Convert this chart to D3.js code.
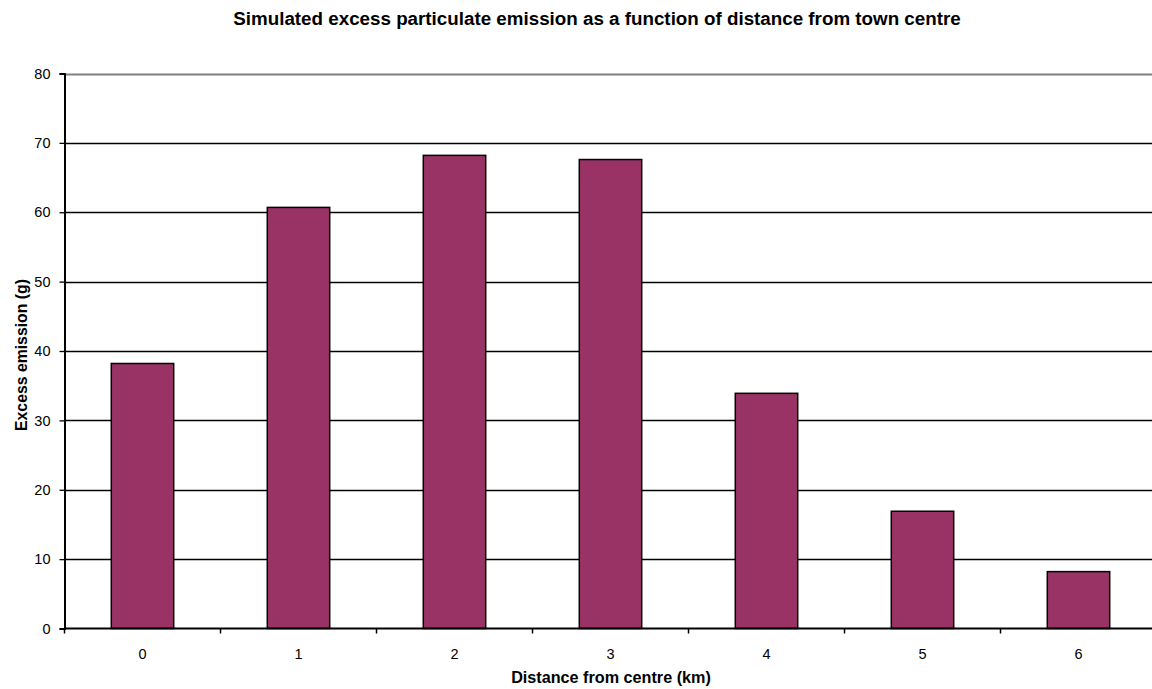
<!DOCTYPE html>
<html lang="en">
<head>
  <meta charset="UTF-8">
  <title>Simulated excess particulate emission</title>
  <script src="https://d3js.org/d3.v7.min.js"></script>
  <style>
    body { margin: 0; background: #fff; }
    text { font-family: "Liberation Sans", Arial, sans-serif; fill: #000; }
  </style>
</head>
<body>
  <div id="chart"></div>
  <script>
    const categories = ["0", "1", "2", "3", "4", "5", "6"];
    const emission = [38.2, 60.7, 68.2, 67.6, 33.9, 16.9, 8.2];
    const yTicks = [0, 10, 20, 30, 40, 50, 60, 70, 80];

    const width = 1152;
    const height = 689;
    const plot = {left: 64.5, top: 73.5, bottom: 628.5, right: 1156.5};

    const svg = d3.select("#chart")
      .append("svg")
      .attr("width", width)
      .attr("height", height);

    const x = d3.scaleBand()
      .domain(categories)
      .range([plot.left, plot.right])
      .paddingInner(0.6)
      .paddingOuter(0.3);

    const y = d3.scaleLinear()
      .domain([0, 80])
      .range([plot.bottom, plot.top]);

    // gridlines
    svg.append("g")
      .selectAll("line")
      .data(yTicks.filter(d => d > 0))
      .enter()
      .append("line")
      .attr("x1", plot.left)
      .attr("x2", plot.right)
      .attr("y1", d => Math.round(y(d)) + 0.5)
      .attr("y2", d => Math.round(y(d)) + 0.5)
      .attr("stroke", d => d === 80 ? "#808080" : "#000")
      .attr("stroke-width", d => d === 80 ? 2 : 1.3);

    // bars
    svg.append("g")
      .selectAll("rect")
      .data(emission)
      .enter()
      .append("rect")
      .attr("x", (d, i) => x(categories[i]))
      .attr("width", x.bandwidth())
      .attr("y", d => y(d))
      .attr("height", d => y(0) - y(d))
      .attr("fill", "#993366")
      .attr("stroke", "#000")
      .attr("stroke-width", 1.5);

    // y axis
    const yAxis = d3.axisLeft(y)
      .tickValues(yTicks)
      .tickSize(5)
      .tickPadding(9);
    const gy = svg.append("g")
      .attr("transform", "translate(" + plot.left + ",0)")
      .call(yAxis);
    gy.select(".domain").attr("stroke", "#000").attr("stroke-width", 2);
    gy.selectAll(".tick line").attr("stroke", "#000").attr("stroke-width", 1.3);
    gy.selectAll(".tick text")
      .style("font-size", "14.5px")
      .style("font-family", "'Liberation Sans', Arial, sans-serif");

    // x axis: ticks sit on the category boundaries
    const step = (plot.right - plot.left) / categories.length;
    const boundaries = categories.map((c, i) => plot.left + i * step);
    const gx = svg.append("g")
      .attr("transform", "translate(0," + plot.bottom + ")");
    gx.append("line")
      .attr("x1", plot.left)
      .attr("x2", plot.right)
      .attr("stroke", "#000")
      .attr("stroke-width", 2);
    gx.selectAll(".xtick")
      .data(boundaries)
      .enter()
      .append("line")
      .attr("x1", d => d)
      .attr("x2", d => d)
      .attr("y1", 0)
      .attr("y2", 5)
      .attr("stroke", "#000")
      .attr("stroke-width", 1.5);
    gx.selectAll(".xlabel")
      .data(categories)
      .enter()
      .append("text")
      .attr("x", d => x(d) + x.bandwidth() / 2)
      .attr("y", 30)
      .attr("text-anchor", "middle")
      .style("font-size", "14.5px")
      .text(d => d);

    // titles
    svg.append("text")
      .attr("x", 597)
      .attr("y", 25)
      .attr("text-anchor", "middle")
      .style("font-size", "18.8px")
      .style("font-weight", "bold")
      .text("Simulated excess particulate emission as a function of distance from town centre");

    svg.append("text")
      .attr("x", 611)
      .attr("y", 683)
      .attr("text-anchor", "middle")
      .style("font-size", "16.2px")
      .style("font-weight", "bold")
      .text("Distance from centre (km)");

    svg.append("text")
      .attr("transform", "translate(27," + 355 + ") rotate(-90)")
      .attr("text-anchor", "middle")
      .style("font-size", "15.8px")
      .style("font-weight", "bold")
      .text("Excess emission (g)");
  </script>
</body>
</html>
